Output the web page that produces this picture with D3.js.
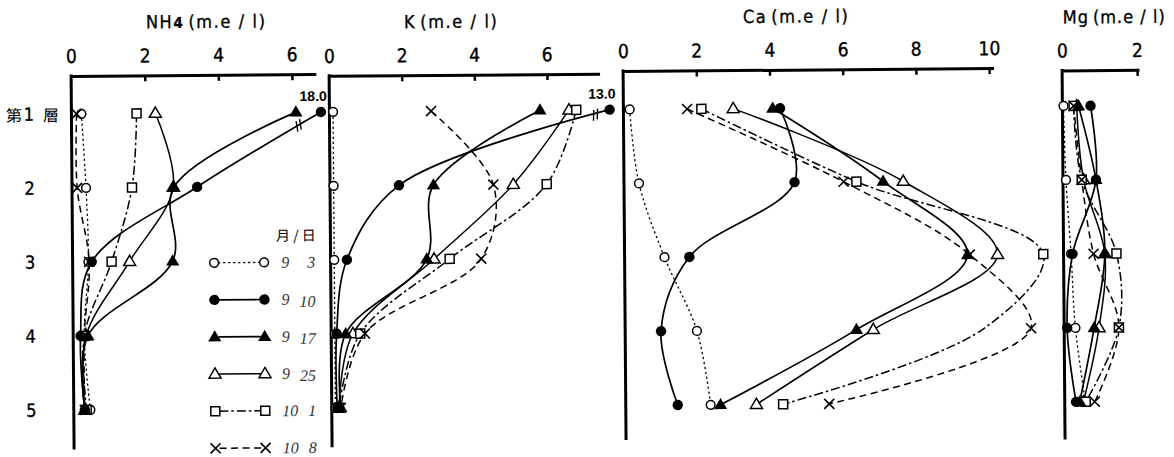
<!DOCTYPE html>
<html>
<head>
<meta charset="utf-8">
<script src="https://cdn.jsdelivr.net/npm/d3@7"></script>
<style>
  html, body { margin: 0; padding: 0; background: #fff; }
  svg { display: block; }
  .tick text { font-family: "Liberation Sans Narrow", "DejaVu Sans Condensed", sans-serif; font-size: 19px; fill: #000; stroke: #000; stroke-width: 0.35px; }
  .title { font-family: "Liberation Sans Narrow", "DejaVu Sans Condensed", sans-serif; font-size: 18px; letter-spacing: 1.6px; fill: #000; stroke: #000; stroke-width: 0.3px; }
  .layer { font-family: "Liberation Sans Narrow", "DejaVu Sans Condensed", sans-serif; font-size: 18px; fill: #000; stroke: #000; stroke-width: 0.35px; }
  .cjk { font-family: "Noto Sans CJK JP", "Noto Sans CJK SC", sans-serif; fill: #000; }
  .big { font-family: "Liberation Sans", Arial, sans-serif; font-size: 14px; font-weight: bold; fill: #000; }
  .leg { font-family: "Liberation Serif", "DejaVu Serif", serif; font-style: italic; font-size: 16px; fill: #333; }
</style>
</head>
<body>
<svg id="chart" width="1174" height="457"></svg>
<script>
// Soil layers (第1層 … 5) and sampling dates (month/day)
const layers = ["1", "2", "3", "4", "5"];
const dates = ["9/3", "9/10", "9/17", "9/25", "10/1", "10/8"];

// Concentrations in m.e/l, one row per date, one column per layer
const nh4 = [
  [0.27, 0.38, 0.43, 0.30, 0.45],
  [18.0, 3.40, 0.52, 0.20, 0.30],
  [6.10, 2.77, 2.72, 0.40, 0.30],
  [2.28, 2.75, 1.55, 0.35, 0.30],
  [1.77, 1.63, 1.06, 0.30, 0.35],
  [0.14, 0.14, 0.45, 0.30, 0.30]
];
const k = [
  [0.10, 0.10, 0.10, 0.10, 0.10],
  [13.0, 1.90, 0.45, 0.15, 0.15],
  [5.80, 2.85, 2.65, 0.40, 0.25],
  [6.60, 5.05, 2.85, 0.60, 0.20],
  [6.80, 5.97, 3.28, 0.80, 0.20],
  [2.80, 4.50, 4.15, 0.93, 0.25]
];
const ca = [
  [0.17, 0.41, 1.09, 1.96, 2.32],
  [4.28, 4.66, 1.77, 0.98, 1.42],
  [4.08, 7.08, 9.37, 6.32, 2.59],
  [3.00, 7.63, 10.19, 6.78, 3.57],
  [2.13, 6.35, 11.44, 9.80, 4.30],
  [1.74, 6.00, 9.43, 11.09, 5.56]
];
const mg = [
  [0.03, 0.08, 0.20, 0.30, 0.55],
  [0.75, 0.88, 0.24, 0.08, 0.30],
  [0.43, 0.88, 1.10, 0.80, 0.40],
  [0.38, 0.55, 1.10, 0.93, 0.50],
  [0.30, 0.50, 1.41, 1.46, 0.56],
  [0.30, 0.50, 0.80, 1.46, 0.80]
];

// Axis tick values
const nh4Ticks = [0, 2, 4, 6];
const kTicks = [0, 2, 4, 6];
const caTicks = [0, 2, 4, 6, 8, 10];
const mgTicks = [0, 2];

// Points plotted without a symbol (line passes through only)
const unmarked = [["Ca", "10/1", "4"]];

// Panel layout; values above `cap` are drawn at the cap with a break on the line
const panels = [
  { id: "NH4", name: "NH", sub: "4", values: nh4, ticks: nh4Ticks, x0: 70.5, unit: 36.8, end: 6.65, top: 76.5, bottom: 450, titleX: 206, ls: 1.6, cap: 6.78, gap: 24 },
  { id: "K", name: "K", values: k, ticks: kTicks, x0: 328.5, unit: 36.3, end: 7.45, top: 78.5, bottom: 450, titleX: 451, ls: 1.6, cap: 7.72, gap: 13 },
  { id: "Ca", name: "Ca", values: ca, ticks: caTicks, x0: 622.5, unit: 36.6, end: 10.12, top: 76, bottom: 445, titleX: 796, ls: 1.6, cap: 99, gap: 0 },
  { id: "Mg", name: "Mg", values: mg, ticks: mgTicks, x0: 1061.5, unit: 37.5, end: 2.05, top: 79, bottom: 448, titleX: 1114, ls: 1.0, cap: 99, gap: 0 }
];

// Series styling, in date order
const markerOf = ["circleOpen", "circleFilled", "triFilled", "triOpen", "squareOpen", "cross"];
const dashOf = ["2.2,2.8", null, null, null, "9,3,2.5,3", "7,4.5"];
const widthOf = [1.3, 1.7, 1.7, 1.5, 1.5, 1.5];
const drawOrder = [0, 3, 4, 5, 2, 1];

const svg = d3.select("#chart");
svg.append("rect").attr("width", 1174).attr("height", 457).attr("fill", "#fff");
const root = svg.append("g").attr("transform", "rotate(-0.46)");

const y = d3.scalePoint().domain(layers).range([114.5, 410.5]);

function drawMarker(g, kind, cx, cy) {
  const s = g.append("g").attr("transform", `translate(${cx},${cy})`);
  if (kind === "circleOpen") {
    s.append("circle").attr("r", 4.4).attr("fill", "#fff").attr("stroke", "#000").attr("stroke-width", 1.5);
  } else if (kind === "circleFilled") {
    s.append("circle").attr("r", 5.2).attr("fill", "#000");
  } else if (kind === "triFilled") {
    s.append("path").attr("d", "M0,-6.8L6.6,4.4L-6.6,4.4Z").attr("fill", "#000");
  } else if (kind === "triOpen") {
    s.append("path").attr("d", "M0,-6.2L6,4L-6,4Z").attr("fill", "#fff").attr("stroke", "#000").attr("stroke-width", 1.5);
  } else if (kind === "squareOpen") {
    s.append("rect").attr("x", -4.5).attr("y", -4.5).attr("width", 9).attr("height", 9)
      .attr("fill", "#fff").attr("stroke", "#000").attr("stroke-width", 1.5);
  } else if (kind === "cross") {
    s.append("path").attr("d", "M-5,-5L5,5M5,-5L-5,5").attr("stroke", "#000").attr("stroke-width", 1.6).attr("fill", "none");
  }
}

// Layer labels on the left
const layerG = root.append("g");
layers.forEach((l, i) => {
  layerG.append("text").attr("class", "layer").attr("x", 28).attr("y", y(l))
    .attr("dominant-baseline", "central").attr("text-anchor", "middle").text(l);
  if (i === 0) {
    layerG.append("text").attr("class", "cjk").attr("font-size", 16).attr("x", 13).attr("y", y(l))
      .attr("dominant-baseline", "central").attr("text-anchor", "middle").text("第");
    layerG.append("text").attr("class", "cjk").attr("font-size", 16).attr("x", 50).attr("y", y(l))
      .attr("dominant-baseline", "central").attr("text-anchor", "middle").text("層");
  }
});

panels.forEach(p => {
  const x = d3.scaleLinear().domain([0, p.end]).range([p.x0, p.x0 + p.end * p.unit]);
  const px = v => x(Math.min(v, p.cap));
  const g = root.append("g");

  // Title
  const t = g.append("text").attr("class", "title").attr("x", p.titleX).attr("y", p.top - 47)
    .attr("text-anchor", "middle").style("letter-spacing", p.ls + "px");
  t.append("tspan").text(p.name);
  if (p.sub) t.append("tspan").attr("font-size", "15px").attr("font-weight", "bold").text(p.sub);
  t.append("tspan").attr("dx", 4).text("(m.e / l)");

  // Top axis with ticks pointing down
  const axis = d3.axisTop(x).tickValues(p.ticks).tickSizeInner(-6).tickSizeOuter(0).tickPadding(13).tickFormat(d3.format("d"));
  const ag = g.append("g").attr("transform", `translate(0,${p.top})`).call(axis);
  ag.select(".domain").attr("stroke", "#000").attr("stroke-width", 3);
  ag.selectAll(".tick line").attr("stroke", "#000").attr("stroke-width", 2.5);
  ag.selectAll(".tick").filter(d => d === 0).select("line").remove();

  // Depth axis
  g.append("line").attr("x1", x(0)).attr("x2", x(0)).attr("y1", p.top - 1.5).attr("y2", p.bottom)
    .attr("stroke", "#000").attr("stroke-width", 3);

  const line = d3.line().x(d => px(d.v)).y(d => y(d.layer)).curve(d3.curveCatmullRom.alpha(0.5));

  // Profile lines
  drawOrder.forEach(si => {
    const pts = p.values[si].map((v, i) => ({ v, layer: layers[i] }));
    g.append("path").attr("d", line(pts)).attr("fill", "none").attr("stroke", "#000")
      .attr("stroke-width", widthOf[si]).attr("stroke-dasharray", dashOf[si]);
  });

  // Off-scale values: break marks on the line and the value as text
  p.values.forEach((vals, si) => {
    if (vals[0] <= p.cap) return;
    const x1 = px(vals[0]), y1 = y(layers[0]);
    const x2 = px(vals[1]), y2 = y(layers[1]);
    const len = Math.hypot(x2 - x1, y2 - y1);
    const ux = (x2 - x1) / len, uy = (y2 - y1) / len;
    const nx = -uy, ny = ux;
    [p.gap, p.gap + 4].forEach(d => {
      const cx = x1 + ux * d, cy = y1 + uy * d;
      g.append("line")
        .attr("x1", cx + nx * 5 - ux * 2).attr("y1", cy + ny * 5 - uy * 2)
        .attr("x2", cx - nx * 5 + ux * 2).attr("y2", cy - ny * 5 + uy * 2)
        .attr("stroke", "#000").attr("stroke-width", 1.4);
    });
    g.append("text").attr("class", "big").attr("x", x1 + 6).attr("y", y1 - 11)
      .attr("text-anchor", "end").text(d3.format(".1f")(vals[0]));
  });

  // Symbols
  drawOrder.forEach(si => {
    p.values[si].forEach((v, i) => {
      if (unmarked.some(u => u[0] === p.id && u[1] === dates[si] && u[2] === layers[i])) return;
      drawMarker(g, markerOf[si], px(v), y(layers[i]));
    });
  });
});

// Legend
const lg = root.append("g");
const legX1 = 212, legX2 = 262, legY0 = 264.5, legStep = 37.1;
lg.append("text").attr("class", "cjk").attr("font-size", 14).attr("fill", "#222")
  .attr("x", 294).attr("y", 237).attr("text-anchor", "middle").attr("dominant-baseline", "central").text("月 / 日");
dates.forEach((dt, si) => {
  const ly = legY0 + si * legStep;
  lg.append("line").attr("x1", legX1 + 4).attr("x2", legX2 - 4).attr("y1", ly).attr("y2", ly)
    .attr("stroke", "#000").attr("stroke-width", widthOf[si]).attr("stroke-dasharray", dashOf[si]);
  drawMarker(lg, markerOf[si], legX1, ly);
  drawMarker(lg, markerOf[si], legX2, ly);
  const [m, d] = dt.split("/");
  lg.append("text").attr("class", "leg").attr("x", 279).attr("y", ly).attr("dominant-baseline", "central").text(m);
  lg.append("text").attr("class", "leg").attr("x", 313).attr("y", ly + (d.length > 1 && m.length === 1 ? 2 : 0))
    .attr("text-anchor", "end").attr("dominant-baseline", "central").text(d);
});
</script>
</body>
</html>
